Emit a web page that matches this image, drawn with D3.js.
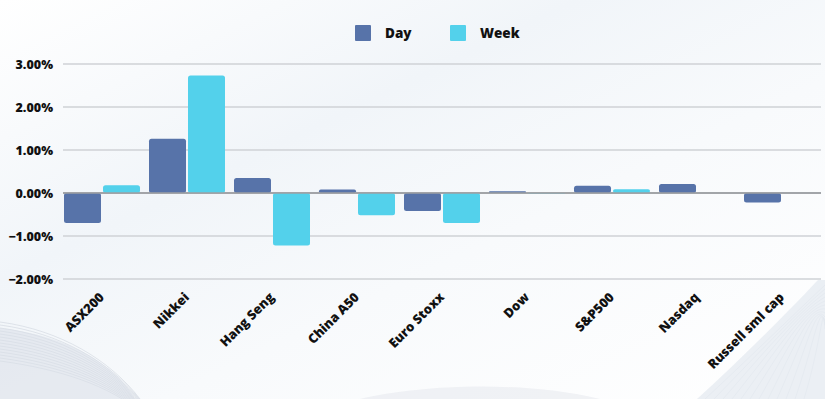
<!DOCTYPE html>
<html><head><meta charset="utf-8">
<script src="https://cdn.jsdelivr.net/npm/d3@7"></script>
<style>html,body{margin:0;padding:0;overflow:hidden;}svg{display:block;}</style>
</head><body><svg id="c" width="825" height="399"></svg>
<script>
const categories = ["ASX200","Nikkei","Hang Seng","China A50","Euro Stoxx","Dow","S&P500","Nasdaq","Russell sml cap"];
const seriesNames = ["Day","Week"];
const dayValues  = [-0.70, 1.26, 0.35, 0.08, -0.42, 0.04, 0.17, 0.21, -0.22];
const weekValues = [0.18, 2.73, -1.22, -0.52, -0.70, -0.01, 0.09, 0.0, 0.0];
const yTicks = [3, 2, 1, 0, -1, -2];
const colors = ["#5773A9", "#53D1EB"];

const W = 825, H = 399;
const svg = d3.select("#c");
const defs = svg.append("defs");
const g1 = defs.append("linearGradient").attr("id","bg").attr("x1","0").attr("y1","0").attr("x2","1").attr("y2","1");
g1.append("stop").attr("offset","0").attr("stop-color","#ffffff");
g1.append("stop").attr("offset","0.35").attr("stop-color","#f1f5f9");
g1.append("stop").attr("offset","0.6").attr("stop-color","#f8fafc");
g1.append("stop").attr("offset","1").attr("stop-color","#ffffff");
svg.append("rect").attr("width",W).attr("height",H).attr("fill","url(#bg)");

// decorative curves
const deco = svg.append("g").attr("fill","none");
svg.append("path").attr("d","M0,328 C70,336 115,365 135,399 L0,399 Z").attr("fill","#d8dee7").attr("opacity",0.55);
for (let i=0;i<14;i++){
  deco.append("path").attr("d",`M0,${322+i*3} C60,${330+i*3} 110,${360+i*2} 140,${399+i}`)
    .attr("stroke","#c3cad4").attr("stroke-opacity",0.45).attr("stroke-width",1);
}
svg.append("path").attr("d","M697,399 C740,360 785,315 818,280 L825,280 L825,399 Z").attr("fill","#e4e9f0").attr("opacity",0.75);
for (let i=0;i<12;i++){
  deco.append("path").attr("d",`M${705+i*9},399 C${745+i*7},${362-i*2} ${790+i*3},${318-i*2} 825,${285+i*4}`)
    .attr("stroke","#d2d9e2").attr("stroke-opacity",0.5);
}
svg.append("path").attr("d","M360,399 C420,385 520,380 600,399 Z").attr("fill","#d9dee6").attr("opacity",0.35);

const y = d3.scaleLinear().domain([-2,3]).range([279,64]);
const x0 = d3.scaleBand().domain(categories).range([59.5,824.5]).paddingInner(0).paddingOuter(0);
const barW = 37, gap = 2, offset = 4.5;

// grid
const grid = svg.append("g");
yTicks.forEach(t=>{
  grid.append("line").attr("x1",63).attr("x2",821).attr("y1",y(t)).attr("y2",y(t))
    .attr("stroke", t===0 ? "#9c9fa3" : "#cfd2d6").attr("stroke-width",1.5);
});

// y labels
const yAxis = d3.axisLeft(y).tickValues(yTicks).tickSize(0).tickPadding(0)
  .tickFormat(d=>d3.format(".2f")(d)+"%");
const ya = svg.append("g").attr("transform","translate(53,0)").call(yAxis);
ya.select(".domain").remove();
ya.selectAll("text").attr("font-family","'Open Sans', sans-serif").attr("font-weight",800)
  .attr("font-size",12.5).attr("fill","#111").attr("dy","0.35em");

const series = [dayValues, weekValues];
series.forEach((vals, si)=>{
  svg.append("g").selectAll("rect").data(categories).join("rect")
    .attr("x", c => x0(c)+offset + si*(barW+gap))
    .attr("y", (c,i) => Math.min(y(0), y(vals[i])))
    .attr("width", barW)
    .attr("height", (c,i) => Math.abs(y(vals[i])-y(0)))
    .attr("rx", (c,i)=> Math.min(2.5, Math.abs(y(vals[i])-y(0))/2))
    .attr("fill", colors[si]);
});
// redraw zero line on top
svg.append("line").attr("x1",63).attr("x2",821).attr("y1",y(0)).attr("y2",y(0))
  .attr("stroke","#9c9fa3").attr("stroke-width",1.5);

// x labels
const xl = svg.append("g");
categories.forEach(c=>{
  const cx = x0(c) + x0.bandwidth()/2 + 3;
  xl.append("text").attr("transform",`translate(${cx},${298}) rotate(-45)`)
    .attr("text-anchor","end").attr("font-family","'Open Sans', sans-serif")
    .attr("font-weight",800).attr("font-size",13).attr("fill","#111").text(c);
});

// legend
const lg = svg.append("g");
const legendX = [355, 450];
seriesNames.forEach((n,i)=>{
  lg.append("rect").attr("x",legendX[i]).attr("y",25).attr("width",16).attr("height",16).attr("rx",1).attr("fill",colors[i]);
  lg.append("text").attr("x",legendX[i]+30).attr("y",33).attr("dy","0.35em")
    .attr("font-family","'Open Sans', sans-serif").attr("font-weight",800).attr("font-size",13.5).attr("fill","#111").text(n);
});
</script></body></html>
